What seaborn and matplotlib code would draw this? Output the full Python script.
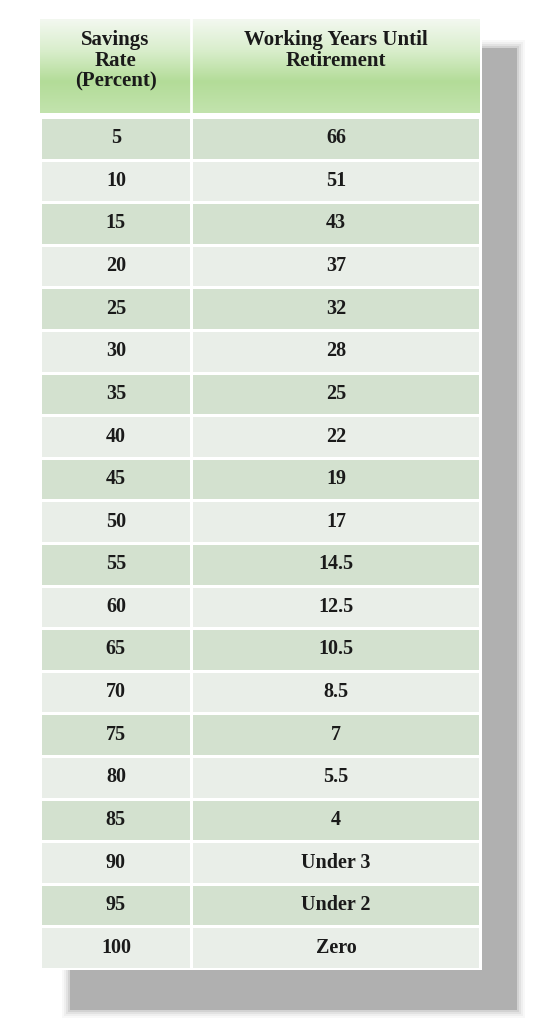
import numpy as np
import matplotlib
matplotlib.use("Agg")
import matplotlib.pyplot as plt
from matplotlib.colors import ListedColormap, LinearSegmentedColormap
from matplotlib.patches import Rectangle
import seaborn as sns

savings_rate = ["5", "10", "15", "20", "25", "30", "35", "40", "45", "50",
                "55", "60", "65", "70", "75", "80", "85", "90", "95", "100"]
working_years = ["66", "51", "43", "37", "32", "28", "25", "22", "19", "17",
                 "14.5", "12.5", "10.5", "8.5", "7", "5.5", "4", "Under 3", "Under 2", "Zero"]
headers = ["Savings\nRate\n(Percent)", "Working Years Until\nRetirement"]

W, H = 552, 1024
fig = plt.figure(figsize=(W / 100, H / 100), dpi=100)
ax = fig.add_axes([0, 0, 1, 1])
ax.set_xlim(0, W)
ax.set_ylim(H, 0)
ax.axis("off")

FONT = dict(family="Liberation Serif", weight="bold", color="#1a1a1a")

# soft drop shadow
for i, a in enumerate([0.08, 0.12, 0.2, 0.3, 1.0]):
    g = 4 - i
    ax.add_patch(Rectangle((70 - g * 2, 48 - g * 2), 447 + g * 4, 962 + g * 4,
                           color="#b0b0b0", alpha=a, lw=0))

# table background (white border)
ax.add_patch(Rectangle((38, 17), 444, 953, color="white", lw=0))

# header gradient
left, right, top, hbot, div = 40, 480, 19, 113, 191
grad = np.linspace(0, 1, 100).reshape(-1, 1)
hcmap = LinearSegmentedColormap.from_list("hdr", ["#f3f8f0", "#d9eecc", "#b3dc98", "#c2e3ad"])
ax.imshow(grad, cmap=hcmap, extent=[left, right, hbot, top], aspect="auto", zorder=2)
ax.plot([div, div], [top, hbot], color="white", lw=2, zorder=3)
ax.text((left + div) / 2, 30, headers[0], ha="center", va="top", fontsize=15,
        linespacing=1.05, zorder=4, **FONT)
ax.text((div + right) / 2, 30, headers[1], ha="center", va="top", fontsize=15,
        linespacing=1.05, zorder=4, **FONT)

# body rows via seaborn heatmap
body_top, body_bot = 117, 969
bax = fig.add_axes([left / W, 1 - body_bot / H, (right - left) / W, (body_bot - body_top) / H])
parity = np.array([[i % 2, i % 2] for i in range(len(savings_rate))])
labels = np.array([[a, b] for a, b in zip(savings_rate, working_years)])
sns.heatmap(parity, ax=bax, cmap=ListedColormap(["#d3e1cf", "#e9eee8"]), cbar=False,
            annot=labels, fmt="", linewidths=2, linecolor="white",
            annot_kws=dict(fontsize=14.5, **FONT), xticklabels=False, yticklabels=False)
# column widths: first column narrower
for t in bax.texts:
    x, y = t.get_position()
    t.set_position((0.345 if x < 1 else 1.345, y))
bax.clear() if False else None
bax.axis("off")

# redraw with uneven column widths by using pcolormesh edges
bax.collections[0].remove()
xe = np.array([0, (div - left) / (right - left) * 2, 2])
ye = np.arange(len(savings_rate) + 1)
bax.pcolormesh(xe, ye, parity, cmap=ListedColormap(["#d3e1cf", "#e9eee8"]),
               edgecolors="white", linewidth=2, zorder=0)
bax.set_xlim(0, 2)
bax.set_ylim(len(savings_rate), 0)

fig.savefig("out.png", dpi=100)
